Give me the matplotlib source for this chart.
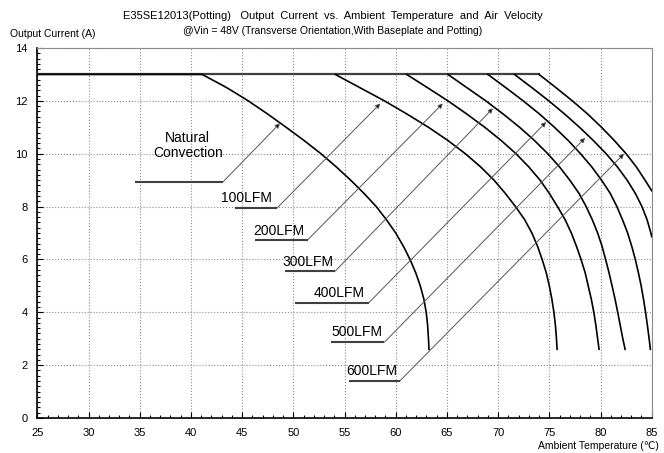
import matplotlib
matplotlib.use("Agg")
import matplotlib.pyplot as plt
from matplotlib.ticker import MultipleLocator

plt.rcParams['font.family'] = ['Liberation Sans', 'DejaVu Sans']

# ---- data (x at each current level) ----
nc_y   = [13, 13, 12.5, 12, 11.5, 11, 10.5, 10, 9.5, 9, 8.5, 8, 7.5, 7, 6.5, 6, 5.5, 5, 4.5, 4, 3.5, 3, 2.6]
nc_x   = [25, 41.1, 43.5, 45.6, 47.5, 49.3, 51.05, 52.7, 54.2, 55.6, 56.9, 58.1, 59.1, 60.0, 60.75,
          61.4, 61.95, 62.4, 62.75, 62.98, 63.12, 63.2, 63.25]
lfm_y  = [13, 12.5, 12, 11.5, 11, 10.5, 10, 9.5, 9, 8.5, 8, 7.5, 7, 6.5, 6, 5.5, 5, 4.5, 4, 3.5, 3, 2.6]
l100_x = [54.1, 56.5, 58.9, 61.1, 63.2, 65.1, 66.8, 68.3, 69.6, 70.7, 71.7, 72.6, 73.3, 73.85,
          74.3, 74.7, 75.0, 75.25, 75.45, 75.6, 75.7, 75.76]
l200_x = [61.07, 63.1, 65.1, 66.95, 68.7, 70.3, 71.75, 73.0, 74.1, 75.0, 75.8, 76.55, 77.15, 77.65,
          78.1, 78.5, 78.8, 79.1, 79.35, 79.55, 79.72, 79.86]
l300_x = [65.1, 66.95, 68.8, 70.5, 72.1, 73.55, 74.85, 76.0, 77.0, 77.9, 78.6, 79.2, 79.72, 80.15,
          80.5, 80.83, 81.13, 81.42, 81.68, 81.93, 82.18, 82.4]
l400_x = [69.0, 70.75, 72.45, 74.05, 75.5, 76.85, 78.05, 79.15, 80.1, 80.95, 81.6, 82.15, 82.65, 83.05,
          83.4, 83.7, 83.97, 84.2, 84.4, 84.58, 84.75, 84.87]
l500_y = [13, 12.5, 12, 11.5, 11, 10.5, 10, 9.5, 9, 8.5, 8, 7.5, 7, 6.86]
l500_x = [71.6, 73.3, 74.95, 76.5, 77.95, 79.3, 80.55, 81.65, 82.6, 83.4, 84.05, 84.55, 84.92, 85.0]
l600_y = [13, 12.5, 12, 11.5, 11, 10.5, 10, 9.5, 9, 8.6]
l600_x = [74.0, 75.65, 77.25, 78.75, 80.1, 81.35, 82.5, 83.5, 84.35, 85.0]

labels = ["Natural\nConvection", "100LFM", "200LFM", "300LFM", "400LFM", "500LFM", "600LFM"]
label_xy   = [(39.7, 10.3), (45.4, 8.33), (48.6, 7.06), (51.4, 5.92), (54.5, 4.72), (56.2, 3.24), (57.7, 1.76)]
line_x0    = [34.5, 44.3, 46.3, 49.2, 50.2, 53.7, 55.4]
line_x1    = [43.1, 48.4, 51.4, 54.1, 57.4, 58.9, 60.4]
line_y     = [8.92, 7.94, 6.74, 5.56, 4.37, 2.87, 1.40]
tip_xy     = [(48.7, 11.15), (58.5, 11.9), (64.6, 11.9), (69.5, 11.72), (74.7, 11.2), (78.5, 10.6), (82.3, 10.0)]

fig = plt.figure(figsize=(6.64, 4.53), dpi=100)
ax = fig.add_axes([37.3/664, 1 - 418/453, (651.7 - 37.3)/664, 370/453])

ax.set_xlim(25, 85)
ax.set_ylim(0, 14)
ax.xaxis.set_major_locator(MultipleLocator(5))
ax.xaxis.set_minor_locator(MultipleLocator(1))
ax.yaxis.set_major_locator(MultipleLocator(2))
ax.yaxis.set_minor_locator(MultipleLocator(0.2))
ax.tick_params(which='both', direction='in', labelsize=8, colors='black')
ax.tick_params(which='major', length=4, width=0.8, pad=7)
ax.tick_params(which='minor', length=2.5, width=0.8)
ax.grid(True, which='major', linestyle=':', color='#8c8c8c', linewidth=0.8)
ax.set_axisbelow(True)
for s in ['top', 'right']:
    ax.spines[s].set_color('#8c8c8c')
for s in ['left', 'bottom']:
    ax.spines[s].set_color('black')
    ax.spines[s].set_linewidth(1.2)

ax.plot([25, 74.0], [13, 13], color='#404040', linewidth=1.6, zorder=3, clip_on=False)
curves = [(nc_x, nc_y), (l100_x, lfm_y), (l200_x, lfm_y), (l300_x, lfm_y),
          (l400_x, lfm_y), (l500_x, l500_y), (l600_x, l600_y)]
for xs, ys in curves:
    ax.plot(xs, ys, color='black', linewidth=1.2, zorder=3, solid_joinstyle='round')

for lab, (tx, ty), x0, x1, ly, (px, py) in zip(labels, label_xy, line_x0, line_x1, line_y, tip_xy):
    ax.text(tx, ty, lab, fontsize=10, ha='center', va='center', linespacing=1.1, zorder=4)
    ax.plot([x0, x1], [ly, ly], color='#404040', linewidth=1.5, zorder=3, solid_capstyle='butt')
    ax.annotate('', xy=(px, py), xytext=(x1, ly),
                arrowprops=dict(arrowstyle='-|>', color='#555555', lw=0.7,
                                mutation_scale=7, shrinkA=0, shrinkB=0,
                                fc='black'), zorder=4)

fig.text(333/664, 1 - 16/453,
         "E35SE12013(Potting)   Output  Current  vs.  Ambient  Temperature  and  Air  Velocity",
         ha='center', va='center', fontsize=8)
fig.text(333/664, 1 - 31/453, "@Vin = 48V (Transverse Orientation,With Baseplate and Potting)",
         ha='center', va='center', fontsize=7.5)
fig.text(53/664, 1 - 34/453, "Output Current (A)", ha='center', va='center', fontsize=7.5)
fig.text(598/664, 1 - 446/453, "Ambient Temperature (℃)", ha='center', va='center', fontsize=7.5)

fig.savefig("out.png", dpi=100)
